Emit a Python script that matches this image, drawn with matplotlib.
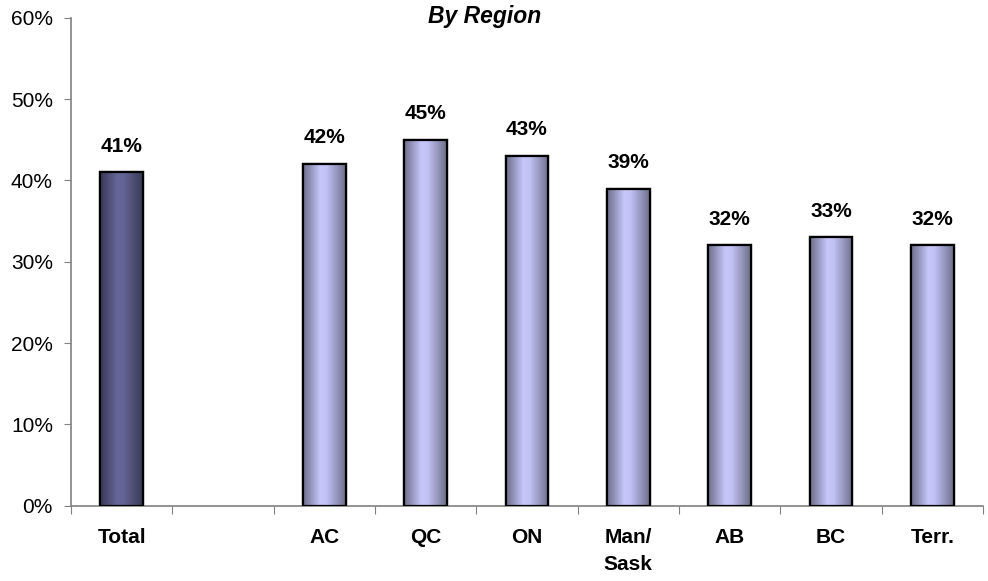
import numpy as np
import matplotlib
matplotlib.use('Agg')
import matplotlib.pyplot as plt
from matplotlib.colors import LinearSegmentedColormap, to_rgb

plt.rcParams['font.family'] = ['Liberation Sans', 'DejaVu Sans']

categories = ['Total', '', 'AC', 'QC', 'ON', 'Man/\nSask', 'AB', 'BC', 'Terr.']
values = [41, None, 42, 45, 43, 39, 32, 33, 32]
value_labels = ['41%', '', '42%', '45%', '43%', '39%', '32%', '33%', '32%']
total_color = '#66669a'
region_color = '#c6c6fa'
title = 'By Region'
yticks = [0, 10, 20, 30, 40, 50, 60]

W, H = 988, 581
fig = plt.figure(figsize=(W / 100, H / 100), dpi=100)
ax = fig.add_axes([71 / W, 1 - 505.7 / H, (983 - 71) / W, (505.7 - 17.7) / H])

def shade_cmap(base):
    r, g, b = to_rgb(base)
    def sc(f):
        return (r * f, g * f, b * f)
    stops = [(0.0, sc(0.55)), (0.12, sc(0.68)), (0.40, sc(1.0)),
             (0.55, sc(0.98)), (0.85, sc(0.70)), (1.0, sc(0.55))]
    return LinearSegmentedColormap.from_list('shade', stops)

grad = np.linspace(0, 1, 256).reshape(1, -1)
width = 0.42
for i, v in enumerate(values):
    if v is None:
        continue
    color = total_color if i == 0 else region_color
    bar = ax.bar(i, v, width=width, color=color, edgecolor='black',
                 linewidth=1.6, zorder=2)[0]
    im = ax.imshow(grad, extent=(i - width / 2, i + width / 2, 0, v),
                   aspect='auto', cmap=shade_cmap(color), zorder=2.5,
                   interpolation='bilinear')
    im.set_clip_path(bar)
    ax.bar(i, v, width=width, facecolor='none', edgecolor='black',
           linewidth=1.6, zorder=3)
    ax.annotate(value_labels[i], (i, v), xytext=(0, 12), textcoords='offset points',
                ha='center', va='bottom', fontsize=15, fontweight='bold')

ax.set_xlim(-0.5, len(categories) - 0.5)
ax.set_ylim(0, 60)
ax.set_yticks(yticks)
ax.set_yticklabels([f'{t}%' for t in yticks], fontsize=15)
ax.set_xticks(np.arange(len(categories) + 1) - 0.5)
ax.set_xticklabels([])
ax.set_xticks(np.arange(len(categories)), minor=True)
ax.set_xticklabels(categories, minor=True, fontsize=15, fontweight='bold',
                   linespacing=1.55)
ax.tick_params(axis='x', which='minor', length=0, pad=16)
ax.tick_params(axis='x', which='major', length=6, color='#808080', direction='out')
ax.tick_params(axis='y', length=5, color='#808080', direction='out', pad=8)

for s in ['top', 'right']:
    ax.spines[s].set_visible(False)
for s in ['left', 'bottom']:
    ax.spines[s].set_color('#808080')
    ax.spines[s].set_linewidth(1.2)

fig.text(485 / W, 1 - 17 / H, title, ha='center', va='center', fontsize=16.5,
         fontweight='bold', fontstyle='italic')

fig.savefig('out.png', dpi=100)
